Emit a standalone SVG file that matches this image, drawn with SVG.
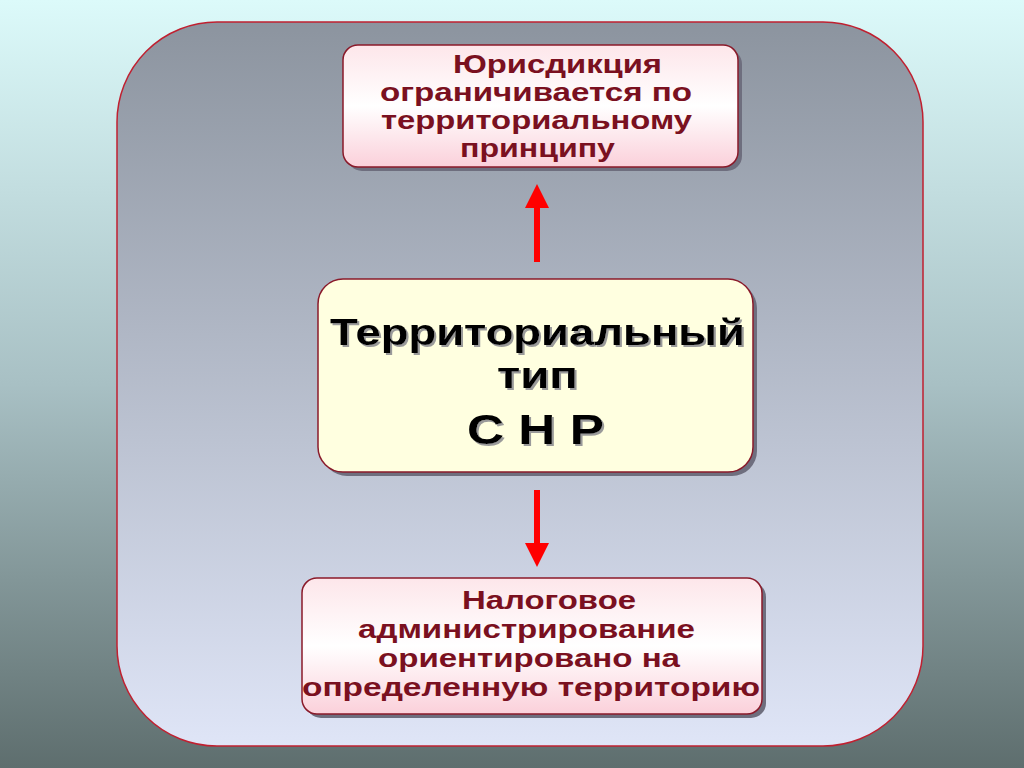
<svg xmlns="http://www.w3.org/2000/svg" width="1024" height="768" viewBox="0 0 1024 768">
<defs>
<linearGradient id="bg" x1="0" y1="0" x2="0" y2="1"><stop offset="0" stop-color="#dcfafa"/><stop offset="0.5" stop-color="#a8c0c4"/><stop offset="1" stop-color="#5e6e6e"/></linearGradient>
<linearGradient id="panel" x1="0" y1="0" x2="0" y2="1"><stop offset="0" stop-color="#8c949f"/><stop offset="1" stop-color="#dfe5f7"/></linearGradient>
<linearGradient id="pink" x1="0" y1="0" x2="0" y2="1"><stop offset="0" stop-color="#fde6ea"/><stop offset="0.5" stop-color="#ffffff"/><stop offset="1" stop-color="#fbd0da"/></linearGradient>
<filter id="ts" x="-10%" y="-30%" width="120%" height="160%"><feDropShadow dx="2" dy="2" stdDeviation="0" flood-color="#9a9a9a"/></filter>
<marker id="ah" markerWidth="4" markerHeight="4" refX="2" refY="2" orient="auto" markerUnits="strokeWidth"><path d="M0,0 L4,2 L0,4 Z" fill="#ff0000"/></marker>
</defs>
<style>
.box{stroke:#8a1a2a;stroke-width:1.5}
.sh{fill:#6e6e7e}
.t{font-family:"Liberation Sans",Arial,sans-serif;font-weight:bold;font-size:25px;fill:#7a1020;text-anchor:start}
.big{font-family:"Liberation Sans",Arial,sans-serif;font-weight:bold;font-size:36px;fill:#000;text-anchor:start;filter:url(#ts)}
.arr{stroke:#ff0000;stroke-width:6;fill:none}
</style>
<rect width="1024" height="768" fill="url(#bg)"/>
<rect x="117" y="22" width="806" height="724" rx="100" fill="url(#panel)" stroke="#c02030" stroke-width="1.5"/>
<g id="connectors">
<line class="arr" x1="537" y1="262" x2="537" y2="196" marker-end="url(#ah)"/>
<line class="arr" x1="537" y1="490" x2="537" y2="555" marker-end="url(#ah)"/>
</g>
<g id="top">
<rect class="sh" x="347" y="49" width="395" height="122" rx="15"/>
<rect class="box" x="343" y="45" width="395" height="122" rx="15" fill="url(#pink)"/>
<text class="t" x="453" y="73" textLength="209" lengthAdjust="spacingAndGlyphs">Юрисдикция</text>
<text class="t" x="380" y="101" textLength="312" lengthAdjust="spacingAndGlyphs">ограничивается по</text>
<text class="t" x="381" y="129" textLength="311" lengthAdjust="spacingAndGlyphs">территориальному</text>
<text class="t" x="460" y="157" textLength="155" lengthAdjust="spacingAndGlyphs">принципу</text>
</g>
<g id="center">
<rect class="sh" x="322" y="283" width="435" height="193" rx="25"/>
<rect class="box" x="318" y="279" width="435" height="193" rx="25" fill="#ffffe0"/>
<text class="big" x="330" y="345" textLength="415" lengthAdjust="spacingAndGlyphs">Территориальный</text>
<text class="big" x="497" y="388" textLength="81" lengthAdjust="spacingAndGlyphs">тип</text>
<text class="big" x="467" y="444" style="font-size:42px" textLength="137" lengthAdjust="spacingAndGlyphs">С Н Р</text>
</g>
<g id="bottom">
<rect class="sh" x="306" y="582" width="460" height="136" rx="15"/>
<rect class="box" x="302" y="578" width="460" height="136" rx="15" fill="url(#pink)"/>
<text class="t" x="462" y="609" textLength="174" lengthAdjust="spacingAndGlyphs">Налоговое</text>
<text class="t" x="358" y="638" textLength="337" lengthAdjust="spacingAndGlyphs">администрирование</text>
<text class="t" x="378" y="667" textLength="302" lengthAdjust="spacingAndGlyphs">ориентировано на</text>
<text class="t" x="302" y="696" textLength="458" lengthAdjust="spacingAndGlyphs">определенную территорию</text>
</g>
</svg>
